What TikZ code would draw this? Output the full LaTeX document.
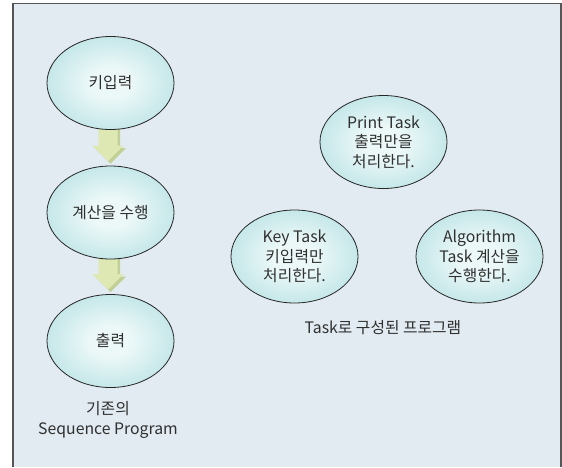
\documentclass[tikz,border=0pt]{standalone}
\usepackage{fontspec}
\setmainfont{Noto Sans CJK KR}
\usetikzlibrary{shapes.geometric,calc,backgrounds}
\definecolor{bgc}{HTML}{E1EBF1}
\definecolor{framec}{HTML}{555555}
\definecolor{ellin}{HTML}{ECF8F8}
\definecolor{ellout}{HTML}{8DCFD3}
\definecolor{arrface}{HTML}{DDE8B3}
\definecolor{arrdark}{HTML}{C2D095}
\definecolor{txt}{HTML}{303030}
\pgfdeclareradialshading{ellshade}{\pgfpoint{0bp}{0bp}}{color(0bp)=(ellin); color(8bp)=(ellin); color(50bp)=(ellout)}
\tikzset{
  bubble/.style={ellipse, draw=black!85, line width=0.8pt, shading=ellshade,
    minimum width=127pt, minimum height=93pt, inner sep=0pt, align=center,
    text=txt, font=\fontsize{15.8}{19.5}\selectfont},
  caption/.style={align=center, text=txt, font=\fontsize{15.8}{20}\selectfont},
}
\newcommand{\blockarrow}[2]{%
\begin{pgfonlayer}{background}
\fill[arrdark] let \p1=(#1.south), \p2=(#2.north) in
 (\x1-9.5pt,\y1+3pt) -- (\x1+9.5pt,\y1+3pt) -- (\x1+9.5pt,\y2+17.5pt) -- (\x1+15.5pt,\y2+17.5pt)
 -- (\x1,\y2+2pt) -- (\x1-15.5pt,\y2+17.5pt) -- (\x1-9.5pt,\y2+17.5pt) -- cycle;
\fill[arrface] let \p1=(#1.south), \p2=(#2.north) in
 (\x1-12pt,\y1+3pt) -- (\x1+7pt,\y1+3pt) -- (\x1+7pt,\y2+20pt) -- (\x1+13pt,\y2+20pt)
 -- (\x1-2.5pt,\y2+4.5pt) -- (\x1-18pt,\y2+20pt) -- (\x1-12pt,\y2+20pt) -- cycle;
\end{pgfonlayer}}
\begin{document}
\begin{tikzpicture}[x=1pt,y=-1pt]
\useasboundingbox (0,0) rectangle (562,467);
\begin{pgfonlayer}{background}
\fill[bgc] (13,3.5) rectangle (561,467);
\end{pgfonlayer}
\draw[framec, line width=1.3pt] (13,467) -- (13,3.5) -- (561,3.5) -- (561,467);
% sequence program
\node[bubble] (key) at (110.5,83) {키입력};
\node[bubble] (calc) at (110.5,212.5) {계산을 수행};
\node[bubble] (out) at (110.5,341) {출력};
\blockarrow{key}{calc}
\blockarrow{calc}{out}
\node[caption] (seqlbl) at (108,420) {기존의\\Sequence Program};
% task program
\node[bubble] (print) at (383.5,142) {Print Task\\출력만을\\처리한다.};
\node[bubble] (keyt) at (294.5,256.5) {Key Task\\키입력만\\처리한다.};
\node[bubble] (algo) at (479.5,256.5) {Algorithm\\Task 계산을\\수행한다.};
\node[caption] (tasklbl) at (383,328) {Task로 구성된 프로그램};
\end{tikzpicture}
\end{document}
